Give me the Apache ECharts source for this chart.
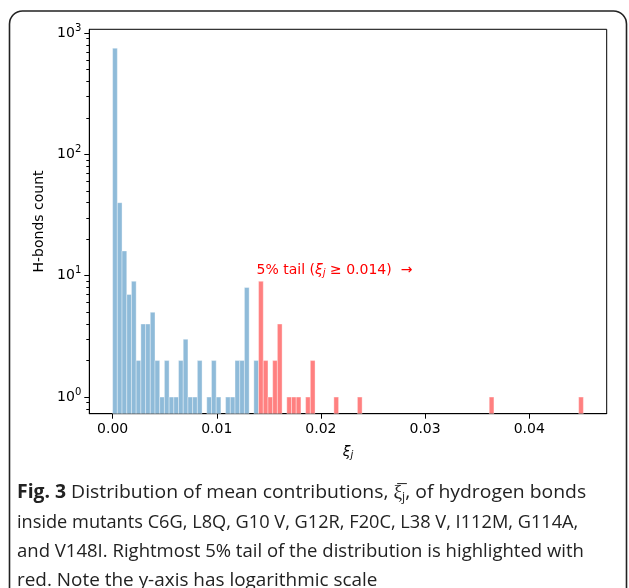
<!DOCTYPE html>
<html><head><meta charset="utf-8">
<script src="https://cdn.jsdelivr.net/npm/echarts@6/dist/echarts.min.js"></script>
<style>html,body{margin:0;padding:0;background:#fff}#c{width:629px;height:588px}</style>
</head><body><div id="c"></div>
<script>
// ---- data ----
const binStart = 0;
const binWidth = 0.000452;
const counts = [750,40,16,7,9,2,4,4,5,2, 1,2,1,1,2,3,1,1,2,0, 1,2,1,0,1,1,2,2,8,0,
  2,9,2,1,2,4,0,1,1,1, 0,1,2,0,0,0,0,1,0,0, 0,0,1,0,0,0,0,0,0,0,
  0,0,0,0,0,0,0,0,0,0, 0,0,0,0,0,0,0,0,0,0, 1,0,0,0,0,0,0,0,0,0,
  0,0,0,0,0,0,0,0,0,1];
const tailFirstBin = 31; // 0-based index of first highlighted bin
const xTicks = [0, 0.01, 0.02, 0.03, 0.04];
const yTicks = [1, 10, 100, 1000];
const yMinorTicks = [0.8,0.9,2,3,4,5,6,7,8,9,20,30,40,50,60,70,80,90,200,300,400,500,600,700,800,900];
const captionLines = [
  ["Fig. 3", " Distribution of mean contributions, ", "ξ̅", "j", ", of hydrogen bonds"],
  ["inside mutants C6G, L8Q, G10 V, G12R, F20C, L38 V, I112M, G114A,"],
  ["and V148I. Rightmost 5% tail of the distribution is highlighted with"],
  ["red. Note the y-axis has logarithmic scale"]
];

const yMin = 0.73, yMax = 1073;
const blue = '#8fbbd9', red = '#ff8080';

const barData = [];
counts.forEach((c, i) => {
  if (c > 0) barData.push([binStart + i * binWidth, binStart + (i + 1) * binWidth, c, i >= tailFirstBin ? 1 : 0]);
});

const chart = echarts.init(document.getElementById('c'), null, {renderer: 'canvas'});
const font = 'DejaVu Sans';
const yAxisCommon = {
  type: 'log', logBase: 10, min: yMin, max: yMax,
  splitLine: {show: false},
};
chart.setOption({
  animation: false,
  backgroundColor: '#fff',
  grid: {left: 89.3, right: 22.3, top: 29.3, bottom: 174.3, show: true, borderColor: '#000', borderWidth: 1, containLabel: false},
  xAxis: {
    type: 'value', min: -0.00224, max: 0.04744,
    splitLine: {show: false},
    axisLine: {show: true, onZero: false, lineStyle: {color: '#000', width: 1}},
    axisTick: {show: true, length: 5, lineStyle: {color: '#000'}, customValues: xTicks},
    axisLabel: {show: true, customValues: xTicks, color: '#000', fontFamily: font, fontSize: 14, margin: 9,
      formatter: v => v.toFixed(2)},
    name: '{i|ξ}{s|j}', nameLocation: 'middle', nameGap: 30,
    nameTextStyle: {rich: {
      i: {fontFamily: font, fontStyle: 'italic', fontSize: 14, color: '#000'},
      s: {fontFamily: font, fontStyle: 'italic', fontSize: 10, color: '#000', padding: [7, 0, 0, 0]}
    }}
  },
  yAxis: [
    Object.assign({}, yAxisCommon, {
      axisLine: {show: true, onZero: false, lineStyle: {color: '#000', width: 1}},
      axisTick: {show: true, length: 5, lineStyle: {color: '#000'}, customValues: yTicks},
      axisLabel: {show: true, customValues: yTicks, color: '#000', margin: 8,
        formatter: v => '{b|10}{s|' + Math.round(Math.log10(v)) + '}',
        rich: {
          b: {fontFamily: font, fontSize: 14, color: '#000', lineHeight: 20, verticalAlign: 'middle'},
          s: {fontFamily: font, fontSize: 10, color: '#000', lineHeight: 20, verticalAlign: 'top'}
        }},
      name: 'H-bonds count', nameLocation: 'middle', nameGap: 41,
      nameTextStyle: {fontFamily: font, fontSize: 14, color: '#000'}
    }),
    Object.assign({}, yAxisCommon, {
      position: 'left',
      axisLine: {show: false, onZero: false},
      axisTick: {show: true, length: 3, lineStyle: {color: '#000'}, customValues: yMinorTicks},
      axisLabel: {show: false}
    })
  ],
  series: [{
    type: 'custom',
    data: barData,
    encode: {x: [0, 1], y: 2},
    clip: true,
    renderItem: function (params, api) {
      const x0 = api.value(0), x1 = api.value(1), v = api.value(2), isRed = api.value(3);
      const pTop = api.coord([x0, v]);
      const pRight = api.coord([x1, yMin]);
      return {
        type: 'rect',
        shape: {x: pTop[0], y: pTop[1], width: pRight[0] - pTop[0], height: pRight[1] - pTop[1]},
        style: {fill: isRed ? red : blue, stroke: 'rgba(255,255,255,0.6)', lineWidth: 0.6}
      };
    }
  }]
});

// annotation & caption
const ann = chart.convertToPixel({xAxisIndex: 0, yAxisIndex: 0}, [0.01382, 11.1]);
const capFont = '"Open Sans"';
const capY = [493, 523, 552, 581];
const capScale = [1.019, 0.957, 0.975, 0.996];
const graphics = [
  {type: 'rect', shape: {x: 9.5, y: 11, width: 617, height: 600, r: 13},
   style: {fill: null, stroke: '#222', lineWidth: 1.6}, z: 100},
  {type: 'text', x: ann[0], y: ann[1], z: 100,
   style: {text: '{r|5% tail (}{i|ξ}{s|j}{r| ≥ 0.014)  →}', verticalAlign: 'middle',
     rich: {
       r: {fontFamily: font, fontSize: 14, fill: '#ff0000'},
       i: {fontFamily: font, fontSize: 14, fontStyle: 'italic', fill: '#ff0000'},
       s: {fontFamily: font, fontSize: 10, fontStyle: 'italic', fill: '#ff0000', padding: [7, 0, 0, 0]}
     }}}
];
captionLines.forEach((parts, li) => {
  let txt;
  if (li === 0) {
    txt = '{b|' + parts[0] + '}{n|' + parts[1] + '}{n|' + parts[2] + '}{s|' + parts[3] + '}{n|' + parts[4] + '}';
  } else {
    txt = '{n|' + parts[0] + '}';
  }
  graphics.push({type: 'text', x: 17, y: capY[li], z: 100, scaleX: capScale[li],
    style: {text: txt, verticalAlign: 'middle', rich: {
      b: {fontFamily: capFont, fontWeight: 'bold', fontSize: 19, fill: '#222'},
      n: {fontFamily: capFont, fontSize: 19, fill: '#222'},
      s: {fontFamily: capFont, fontSize: 12, fill: '#222', padding: [10, 0, 0, 0]}
    }}});
});
chart.setOption({graphic: graphics});
</script></body></html>
